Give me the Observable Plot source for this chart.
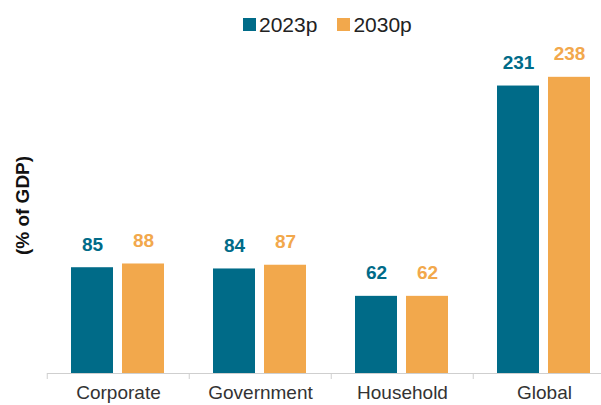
<!DOCTYPE html>
<html><head><meta charset="utf-8">
<script src="https://cdn.jsdelivr.net/npm/d3@7"></script>
<script src="https://cdn.jsdelivr.net/npm/@observablehq/plot@0.6"></script>
<style>
html,body{margin:0;padding:0;background:#fff;overflow:hidden;}
#wrap{position:relative;width:601px;height:405px;overflow:hidden;font-family:"Liberation Sans",Arial,sans-serif;}
#chart{position:absolute;left:0;top:0;width:616px;}
#chart svg{max-width:none !important;}
#legend{position:absolute;top:8px;left:243px;}
.lg-swatch > svg{margin-right:3px !important;}
.lg-swatch{margin-right:20px !important;}
</style></head><body><div id="wrap"><div id="chart"></div><div id="legend"></div></div>
<script>
const categories = ["Corporate", "Government", "Household", "Global"];
const series = ["2023p", "2030p"];
const values2023 = [85, 84, 62, 231];
const values2030 = [88, 87, 62, 238];
const colors = ["#006b88", "#f2a84c"];
const yLabel = "(% of GDP)";

const data = categories.flatMap((c, i) => [
  {category: c, series: series[0], value: values2023[i]},
  {category: c, series: series[1], value: values2030[i]}
]);

const chart = Plot.plot({
  width: 616, height: 405,
  marginLeft: 46, marginRight: 0, marginTop: 37, marginBottom: 32,
  style: {fontFamily: "Liberation Sans, Arial, sans-serif", background: "#fff", overflow: "visible", maxWidth: "none"},
  fx: {domain: categories, padding: 0, label: null},
  x: {domain: series, paddingInner: 0.173, paddingOuter: 0.457, axis: null},
  y: {domain: [0, 270]},
  color: {domain: series, range: colors},
  marks: [
    Plot.ruleY([0], {stroke: "#cfcfcf", strokeWidth: 1}),
    Plot.barY(data, {fx: "category", x: "series", y: "value", fill: "series"}),
    Plot.text(data, {fx: "category", x: "series", y: "value", text: d => String(d.value), fill: "series",
      fontWeight: "bold", fontSize: 19, lineAnchor: "bottom", dy: -17}),
    Plot.axisFx({anchor: "bottom", tickSize: 0, tickPadding: 12, fontSize: 19, fill: "#333", label: null}),
    Plot.axisFx({anchor: "bottom", tickSize: 6, stroke: "#cfcfcf", fill: "none", dx: -71.25, label: null}),
    Plot.axisY({ticks: [], label: yLabel, labelAnchor: "center", labelArrow: "none", labelOffset: 32,
      fontSize: 19, fontWeight: "bold", fill: "#111"})
  ]
});
document.getElementById("chart").append(chart);

const legend = Plot.legend({
  color: {domain: series, range: colors},
  legend: "swatches", swatchSize: 13, className: "lg",
  style: {fontSize: "21px", fontFamily: "Liberation Sans, Arial, sans-serif", color: "#222"}
});
document.getElementById("legend").append(legend);
</script></body></html>
